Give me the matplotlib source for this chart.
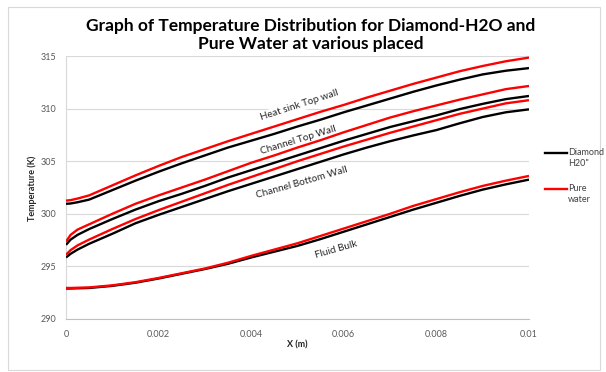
import numpy as np
import matplotlib
matplotlib.use("Agg")
import matplotlib.pyplot as plt
from matplotlib.lines import Line2D
from matplotlib.patches import Rectangle

plt.rcParams['font.family'] = ['Lato', 'DejaVu Sans']

# position along the channel (mm), converted to m for plotting
x_mm = [0, 0.1, 0.25, 0.5, 1, 1.5, 2, 2.5, 3, 3.5, 4, 4.5, 5, 5.5,
        6, 6.5, 7, 7.5, 8, 8.5, 9, 9.5, 10]

# Heat sink top wall
hs_pure = [301.25, 301.3, 301.45, 301.75, 302.7, 303.65, 304.55, 305.4, 306.15, 306.9, 307.6, 308.3,
           309.0, 309.7, 310.35, 311.05, 311.7, 312.35, 312.95, 313.55, 314.05, 314.5, 314.85]
hs_dia = [300.95, 300.98, 301.1, 301.35, 302.25, 303.15, 304.0, 304.8, 305.55, 306.3, 306.95, 307.6,
          308.3, 308.95, 309.65, 310.3, 310.95, 311.6, 312.2, 312.75, 313.25, 313.6, 313.85]
# Channel top wall
ct_pure = [297.35, 298.0, 298.5, 299.0, 300.0, 300.95, 301.75, 302.5, 303.25, 304.05, 304.85, 305.55,
           306.3, 307.0, 307.75, 308.45, 309.15, 309.75, 310.3, 310.85, 311.35, 311.85, 312.15]
ct_dia = [297.05, 297.55, 298.0, 298.55, 299.5, 300.4, 301.2, 301.9, 302.65, 303.45, 304.15, 304.85,
          305.55, 306.25, 306.95, 307.6, 308.25, 308.8, 309.35, 309.95, 310.45, 310.9, 311.2]
# Channel bottom wall
cb_pure = [296.1, 296.55, 297.0, 297.55, 298.55, 299.5, 300.35, 301.15, 301.95, 302.75, 303.5, 304.25,
           305.0, 305.7, 306.4, 307.05, 307.7, 308.3, 308.9, 309.5, 310.0, 310.5, 310.8]
cb_dia = [295.85, 296.2, 296.6, 297.15, 298.1, 299.1, 299.9, 300.65, 301.4, 302.15, 302.85, 303.55,
          304.25, 304.95, 305.65, 306.3, 306.9, 307.45, 307.96, 308.6, 309.2, 309.65, 309.93]
# Fluid bulk
fb_pure = [292.95, 292.95, 292.97, 293.0, 293.2, 293.5, 293.9, 294.35, 294.8, 295.35, 296.0, 296.6,
           297.2, 297.9, 298.6, 299.3, 300.0, 300.75, 301.4, 302.05, 302.65, 303.15, 303.6]
fb_dia = [292.9, 292.9, 292.92, 292.95, 293.15, 293.45, 293.85, 294.3, 294.75, 295.25, 295.85, 296.4,
          296.95, 297.6, 298.3, 299.0, 299.7, 300.4, 301.05, 301.7, 302.3, 302.8, 303.25]

x = np.array(x_mm) / 1000.0

fig = plt.figure(figsize=(6.06, 3.72), dpi=100)
W, H = 606.0, 372.0

# chart border
fig.patches.append(Rectangle((8 / W, 1 - 370 / H), 592 / W, 363 / H, transform=fig.transFigure,
                             fill=False, edgecolor='#D9D9D9', lw=0.8))

ax = fig.add_axes([66 / W, 1 - 319 / H, (529 - 66) / W, (319 - 56) / H])

for ys, col in [(hs_dia, 'black'), (hs_pure, 'red'), (ct_dia, 'black'), (ct_pure, 'red'),
                (cb_dia, 'black'), (cb_pure, 'red'), (fb_dia, 'black'), (fb_pure, 'red')]:
    ax.plot(x, ys, color=col, lw=1.7, zorder=3, solid_capstyle='butt')

ax.set_xlim(0, 0.01)
ax.set_ylim(290, 315)
ax.set_xticks([0, 0.002, 0.004, 0.006, 0.008, 0.01])
ax.set_xticklabels(['0', '0.002', '0.004', '0.006', '0.008', '0.01'])
ax.set_yticks([290, 295, 300, 305, 310, 315])
ax.tick_params(length=0, labelsize=6.5, labelcolor='#595959')
ax.tick_params(axis='y', pad=7)
ax.tick_params(axis='x', pad=8)
ax.grid(axis='y', color='#D9D9D9', lw=0.8)
ax.set_axisbelow(True)
for s in ['top', 'right']:
    ax.spines[s].set_visible(False)
ax.spines['left'].set_color('#D9D9D9')
ax.spines['bottom'].set_color('#BFBFBF')

# labels on the curves
lab_kw = dict(fontsize=7.2, color='#262626', ha='center', va='center', rotation_mode='anchor',
              zorder=2, bbox=dict(facecolor='white', edgecolor='none', pad=1.0))
ax.text(0.00505, 310.3, 'Heat sink Top wall', rotation=18, **lab_kw)
ax.text(0.00501, 307.0, 'Channel Top Wall', rotation=17, **lab_kw)
ax.text(0.0051, 302.95, 'Channel Bottom Wall', rotation=16, **lab_kw)
ax.text(0.00583, 296.6, 'Fluid Bulk', rotation=16, **lab_kw)

fig.text(311 / W, 1 - 35 / H, 'Graph of Temperature Distribution for Diamond-H2O and\nPure Water at various placed',
         ha='center', va='center', fontsize=12.5, fontweight='bold', linespacing=1.1)
fig.text(32 / W, 1 - 188 / H, 'Temperature (K)', rotation=90, ha='center', va='center',
         fontsize=6.5, fontweight='bold', color='#262626')
fig.text(297 / W, 1 - 345 / H, 'X (m)', ha='center', va='center', fontsize=6.5,
         fontweight='bold', color='#262626')

# legend
for yl, col, txt in [(153, 'black', 'Diamond\nH20"'), (189, 'red', 'Pure\nwater')]:
    fig.add_artist(Line2D([545 / W, 567 / W], [1 - yl / H, 1 - yl / H], color=col, lw=1.7,
                          transform=fig.transFigure))
    fig.text(568 / W, 1 - (yl - 5) / H, txt, ha='left', va='top', fontsize=6.5,
             color='#404040', linespacing=1.35)

fig.savefig('out.png', dpi=100)
